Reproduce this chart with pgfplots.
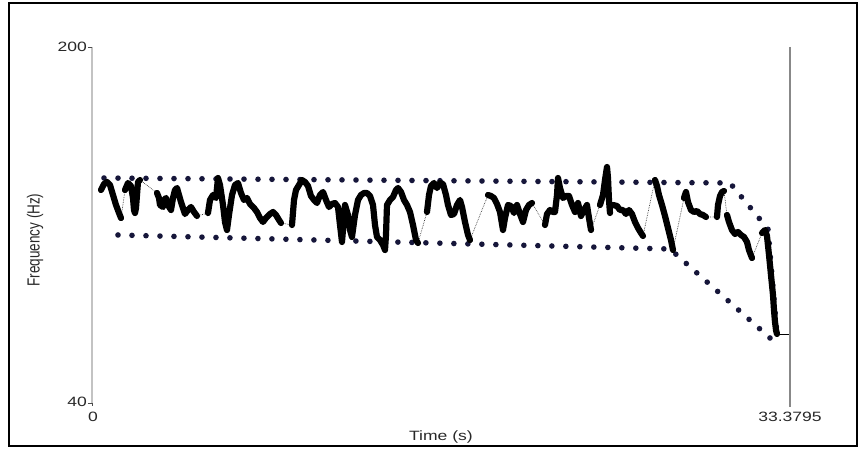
\documentclass[border=0pt]{standalone}
\usepackage{pgfplots}
\pgfplotsset{compat=1.18}
\usepackage{pgfplotstable}
\usepackage{fontspec}
\setmainfont{Liberation Sans}

\definecolor{envdot}{RGB}{22,22,58}
\definecolor{axisgray}{RGB}{195,195,195}
\definecolor{txt}{RGB}{40,40,40}

% label text: sans, slightly widened
\newcommand\lbl[1]{{\fontsize{13.5}{15}\selectfont\scalebox{1.3}[1]{#1}}}

% pitch track (s, Hz); nan rows separate voiced stretches
\pgfplotstableread{
t f
0.430 135.73
0.574 138.43
0.717 139.33
0.861 137.98
1.004 133.48
1.148 128.99
1.291 125.39
1.387 123.15
nan nan
1.578 135.73
1.722 138.88
1.865 137.53
1.961 132.14
2.008 126.74
2.056 125.39
2.104 127.64
2.152 133.48
2.200 139.33
2.295 140.22
nan nan
3.108 134.38
3.204 132.14
3.252 128.99
3.395 128.09
3.443 131.24
3.539 132.14
3.634 128.99
3.778 126.74
3.874 132.14
3.969 135.73
4.065 136.63
4.160 133.48
4.256 130.34
4.352 127.64
4.447 124.94
4.591 126.74
4.734 128.09
4.878 125.84
5.021 124.05
nan nan
5.547 125.39
5.643 131.24
5.786 133.48
5.930 132.14
6.025 141.12
6.121 137.98
6.265 128.99
6.360 121.35
6.456 117.75
6.551 124.50
6.695 133.48
6.838 137.98
6.982 138.88
7.125 134.38
7.269 131.24
7.412 132.14
7.556 129.44
7.747 127.64
7.890 125.84
8.034 123.15
8.177 121.35
8.321 123.15
8.512 124.94
8.656 125.84
8.799 124.50
8.943 122.25
9.038 120.90
nan nan
9.564 120.00
9.660 131.24
9.755 135.73
9.899 137.98
10.042 140.22
10.186 139.33
10.329 137.53
10.473 133.03
10.616 131.24
10.760 129.89
10.903 133.48
11.047 134.83
11.190 131.24
11.334 128.09
11.477 129.44
11.620 129.89
11.764 128.09
11.860 120.00
11.955 112.36
12.099 128.99
12.242 124.50
12.338 117.75
12.433 114.61
12.577 124.50
12.720 131.24
12.864 133.48
13.007 134.38
13.151 134.38
13.294 133.03
13.438 128.99
13.533 120.00
13.629 114.61
13.772 113.26
13.916 111.01
14.012 108.76
14.059 115.51
14.107 128.99
14.251 131.24
14.394 132.58
14.538 135.73
14.633 136.63
14.777 134.83
14.920 131.24
15.064 128.99
15.207 125.84
15.351 120.00
15.494 113.26
15.590 111.91
nan nan
16.020 125.84
16.116 133.48
16.211 137.53
16.355 138.88
16.498 136.63
16.642 138.88
16.785 138.43
16.929 133.48
17.024 128.99
17.168 124.50
17.312 124.94
17.455 128.99
17.598 131.24
17.694 128.09
17.837 121.35
17.981 115.51
18.076 113.26
nan nan
18.937 133.48
19.081 133.03
19.224 132.14
19.368 129.44
19.511 125.84
19.654 117.75
19.750 123.15
19.894 128.99
20.037 128.54
20.180 125.39
20.324 128.99
20.467 124.94
20.611 121.35
20.754 126.74
20.898 128.99
21.041 129.89
nan nan
21.663 120.00
21.759 124.94
21.902 126.74
22.046 125.84
22.141 125.84
22.237 133.48
22.285 141.12
22.380 136.63
22.524 132.14
22.667 133.03
22.811 133.03
22.954 128.99
23.098 125.84
23.241 129.89
23.384 124.05
23.528 126.74
23.671 128.99
23.767 123.15
23.863 117.75
nan nan
24.293 128.99
24.437 133.48
24.532 140.22
24.628 146.07
24.676 141.12
24.723 131.24
24.771 125.39
nan nan
24.915 128.99
25.106 128.54
25.249 126.74
25.393 126.74
25.536 124.94
25.680 126.74
25.823 124.94
25.967 121.35
26.110 118.65
26.254 116.41
26.349 115.06
nan nan
26.923 140.22
27.019 137.53
27.114 133.48
27.258 128.99
27.401 124.05
27.545 118.65
27.688 113.26
27.784 108.76
nan nan
28.310 132.14
28.406 134.83
28.501 130.34
28.645 126.74
28.788 125.84
28.932 126.29
29.075 124.94
29.219 124.50
29.362 123.60
nan nan
29.888 123.60
29.936 128.99
30.032 133.03
30.127 134.83
30.223 135.28
nan nan
30.366 124.50
30.462 121.35
30.605 117.75
30.749 115.96
30.892 116.85
31.036 115.51
31.179 114.61
31.323 112.36
31.418 108.76
31.562 105.17
nan nan
32.040 116.41
32.184 117.75
32.279 115.06
32.375 106.52
32.470 97.53
32.566 88.54
32.614 81.80
32.662 76.40
32.710 72.81
32.757 71.01
}\track

% dotted envelope, upper and lower edges
\pgfplotstableread{
t f
0.574 141.12
30.510 138.88
32.327 118.20
32.757 71.01
}\envup
\pgfplotstableread{
t f
1.243 115.51
27.641 109.21
32.423 69.21
}\envlow

\begin{document}
\begin{tikzpicture}[x=1pt,y=1pt]
\useasboundingbox (-92,-46) rectangle (770,403);
% outer frame
\draw[line width=2.4pt, black] (-83,400) rectangle (765,-43);

\begin{axis}[
  at={(0pt,0pt)}, anchor=south west,
  scale only axis, width=698pt, height=356pt,
  xmin=0, xmax=33.3795, ymin=40, ymax=200,
  hide axis, clip=false,
]
  % envelope dots
  \addplot[envdot, line width=5.6pt, line cap=round,
           dash pattern=on 0pt off 14pt] table[x=t,y=f] {\envup};
  \addplot[envdot, line width=5.6pt, line cap=round,
           dash pattern=on 0pt off 14pt] table[x=t,y=f] {\envlow};
  % thin links between voiced stretches
  \addplot[black!75, line width=0.7pt, densely dotted,
           unbounded coords=discard] table[x=t,y=f] {\track};
  % voiced stretches
  \addplot[black, line width=6.2pt, line join=round, line cap=round,
           unbounded coords=jump] table[x=t,y=f] {\track};
  % final level
  \addplot[black, line width=1.8pt] coordinates {(32.757,70.8) (33.3795,70.8)};
\end{axis}

% axes in the frame style
\draw[axisgray, line width=1.2pt] (0,356) -- (0,0);
\draw[axisgray!70!black, line width=1.2pt] (698,356) -- (698,-4);
\draw[black!70, line width=0.8pt] (-4,356) -- (0,356);
\draw[black!70, line width=0.8pt] (-4,0) -- (0,0) -- (0,-3);

\node[anchor=east, txt, inner sep=0pt] at (-5,356) {\lbl{200}};
\node[anchor=east, txt, inner sep=0pt] at (-5,1) {\lbl{40}};
\node[anchor=north, txt, inner sep=0pt] at (1,-9) {\lbl{0}};
\node[anchor=north, txt, inner sep=0pt] at (698,-9) {\lbl{33.3795}};
\node[txt, inner sep=0pt] at (349,-34) {\lbl{Time (s)}};
\node[txt, inner sep=0pt] at (-57,163) {\rotatebox{90}{\fontsize{13.5}{15}\selectfont\scalebox{1}[1.3]{Frequency (Hz)}}};
\end{tikzpicture}
\end{document}
